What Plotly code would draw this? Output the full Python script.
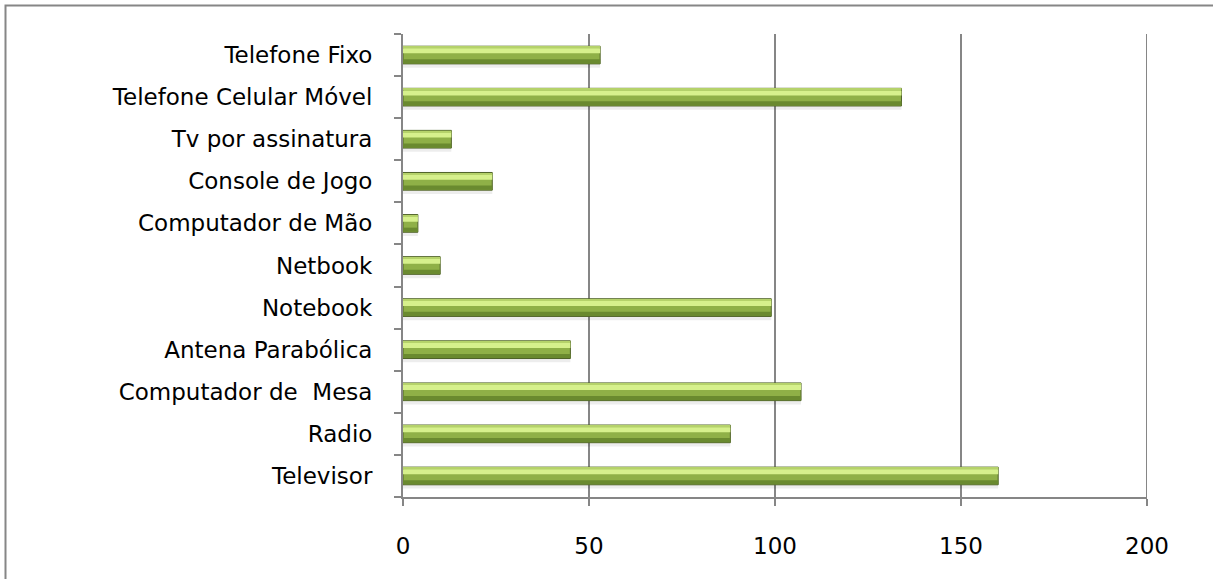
import plotly.graph_objects as go

categories = ["Televisor", "Radio", "Computador de  Mesa", "Antena Parabólica", "Notebook",
              "Netbook", "Computador de Mão", "Console de Jogo", "Tv por assinatura",
              "Telefone Celular Móvel", "Telefone Fixo"]
values = [160, 88, 107, 45, 99, 10, 4, 24, 13, 134, 53]
x_ticks = [0, 50, 100, 150, 200]

W, H = 1213, 579
L, R, T, B = 403, 66, 34, 82
pw, ph = W - L - R, H - T - B

def px(x):
    return (x - L) / pw

def py(y):
    return (H - B - y) / ph

fig = go.Figure()
# shadow
fig.add_trace(go.Bar(y=categories, x=values, orientation="h", width=0.12, offset=-0.3,
                     marker=dict(color="rgba(0,0,0,0.07)", line=dict(width=0)), hoverinfo="skip"))
# base bar
fig.add_trace(go.Bar(y=categories, x=values, orientation="h", width=0.42, offset=-0.21,
                     marker=dict(color="#8fb047", line=dict(color="#4f6228", width=1))))
# dark lower band
fig.add_trace(go.Bar(y=categories, x=values, orientation="h", width=0.1, offset=-0.2,
                     marker=dict(color="#6a8a2f", line=dict(width=0)), hoverinfo="skip"))
# highlight band
fig.add_trace(go.Bar(y=categories, x=values, orientation="h", width=0.12, offset=0.04,
                     marker=dict(color="#d6f08c", line=dict(width=0)), hoverinfo="skip"))
# thin bright top edge
fig.add_trace(go.Bar(y=categories, x=values, orientation="h", width=0.03, offset=0.17,
                     marker=dict(color="#b5d26a", line=dict(width=0)), hoverinfo="skip"))

fig.update_layout(
    width=W, height=H,
    margin=dict(l=L, r=R, t=T, b=B),
    barmode="overlay",
    showlegend=False,
    plot_bgcolor="white", paper_bgcolor="white",
    font=dict(family="DejaVu Sans", size=23, color="#000000"),
    xaxis=dict(range=[0, 200], tickvals=x_ticks, showgrid=True, gridcolor="#868686", gridwidth=2,
               showline=True, linecolor="#868686", linewidth=2, ticks="outside", ticklen=7,
               tickcolor="#868686", tickwidth=2, zeroline=False, ticklabelstandoff=20,
               tickfont=dict(size=23)),
    yaxis=dict(type="category", categoryorder="array", categoryarray=categories,
               showline=True, linecolor="#868686", linewidth=2, ticks="outside", ticklen=7,
               tickcolor="#868686", tickwidth=2, tickson="boundaries", showgrid=False,
               ticklabelstandoff=24, tickfont=dict(size=23), range=[-0.5, 10.5]),
    shapes=[dict(type="rect", xref="paper", yref="paper",
                 x0=px(5.5), x1=px(1230), y0=py(600), y1=py(5.5),
                 line=dict(color="#868686", width=2), layer="below"),
            dict(type="line", xref="x", yref="paper", x0=x_ticks[-1], x1=x_ticks[-1], y0=0, y1=1,
                 line=dict(color="#868686", width=2), layer="below")],
)

fig.write_html("out.html")
